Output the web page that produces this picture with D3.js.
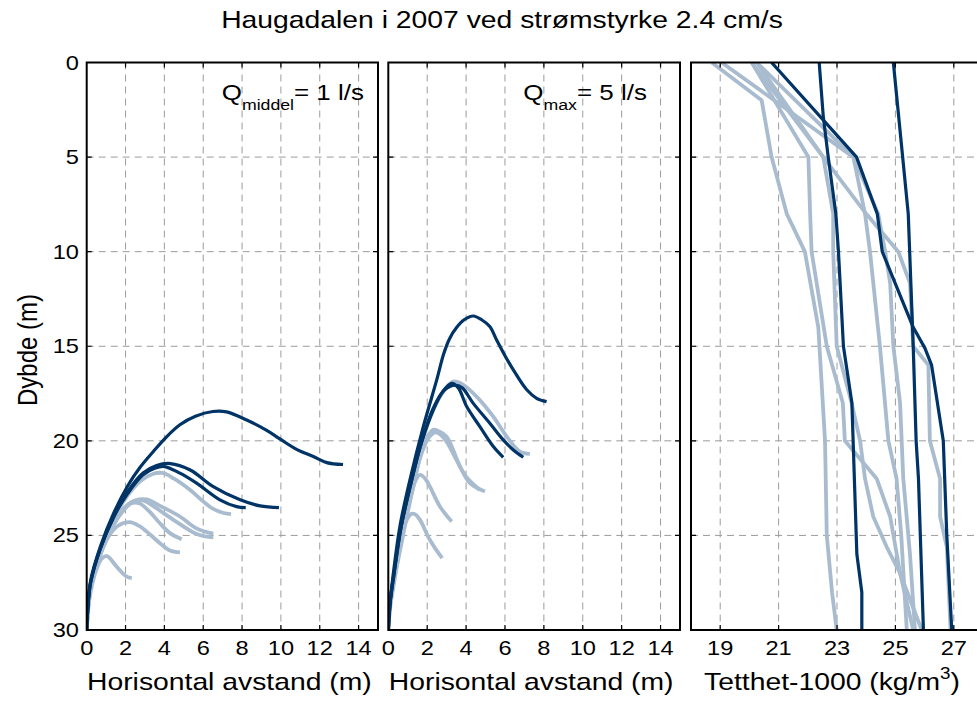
<!DOCTYPE html>
<html>
<head>
<meta charset="utf-8">
<script src="https://cdn.jsdelivr.net/npm/d3@7"></script>
<style>
  body { margin: 0; background: #fff; }
  svg { display: block; }
  text { font-family: "Liberation Sans", Arial, Helvetica, sans-serif; fill: #000; }
</style>
</head>
<body>
<svg id="chart" width="977" height="704"></svg>
<script>
// ---- Plume trajectories, Q middel = 1 l/s : [horizontal distance (m), depth (m)]
const middelDark = [
  [[0,30],[0.05,29],[0.2,27.4],[0.7,25.6],[1.4,23.8],[2.1,22.4],[2.75,21.4],[3.4,20.6],[4.1,19.8],[4.8,19.15],[5.6,18.7],[6.5,18.45],[7.2,18.47],[8.24,18.9],[9.27,19.45],[9.95,19.9],[10.81,20.45],[11.67,20.83],[12.36,21.15],[13.2,21.25]],
  [[0,30],[0.05,29],[0.2,27.5],[0.7,25.7],[1.4,24.0],[2.1,22.7],[2.9,21.7],[3.6,21.3],[4.3,21.2],[5.33,21.54],[6.52,22.42],[7.9,23.12],[8.93,23.44],[9.9,23.53]],
  [[0,30],[0.05,29],[0.2,27.5],[0.7,25.7],[1.4,24.0],[2.1,22.8],[2.9,21.8],[3.5,21.45],[4.0,21.36],[4.8,21.71],[5.66,22.24],[6.86,23.12],[7.72,23.48],[8.19,23.53]]
];
const middelLight = [
  [[0,30],[0.2,27.6],[0.7,25.8],[1.4,24.1],[2.1,22.9],[2.8,22.1],[3.4,21.75],[3.9,21.7],[4.5,22.0],[5.33,22.6],[6.0,23.2],[6.52,23.6],[7.0,23.8],[7.43,23.88]],
  [[0,30],[0.2,27.7],[0.7,26.0],[1.3,24.6],[1.9,23.6],[2.5,23.15],[3.1,23.1],[3.7,23.4],[4.8,24.0],[5.6,24.6],[6.1,24.8],[6.52,24.9]],
  [[0,30],[0.2,27.7],[0.7,26.0],[1.3,24.6],[1.8,23.7],[2.4,23.2],[2.9,23.15],[3.5,23.5],[4.5,24.2],[5.6,24.9],[6.1,25.05],[6.52,25.1]],
  [[0,30],[0.2,27.7],[0.7,26.0],[1.3,24.6],[1.8,23.8],[2.3,23.3],[2.7,23.3],[3.2,23.7],[3.77,24.36],[4.29,24.88],[4.89,25.2]],
  [[0,30],[0.2,27.8],[0.6,26.3],[1.1,25.1],[1.6,24.5],[2.2,24.3],[2.7,24.5],[3.09,24.8],[3.77,25.41],[4.29,25.8],[4.8,25.9]],
  [[0,30],[0.15,28.3],[0.5,26.8],[0.8,26.2],[1.05,26.1],[1.54,26.65],[2.06,27.18],[2.32,27.26]]
];

// ---- Plume trajectories, Q max = 5 l/s
const maxDark = [
  [[0,30],[0.1,28.5],[0.26,27.0],[0.6,24.5],[1.11,22.07],[1.8,19.25],[2.49,16.78],[2.85,15.4],[3.15,14.6],[3.52,14.0],[3.9,13.6],[4.37,13.4],[4.8,13.6],[5.22,13.96],[5.57,14.67],[6.0,15.5],[6.43,16.25],[7.12,17.3],[7.63,17.75],[8.14,17.93]],
  [[0,30],[0.1,28.5],[0.3,27.0],[0.65,24.6],[1.15,22.3],[1.7,20.1],[2.3,18.4],[2.8,17.4],[3.26,16.96],[3.6,17.2],[4.03,18.19],[4.71,19.25],[5.4,20.3],[5.91,20.87]],
  [[0,30],[0.1,28.5],[0.3,27.0],[0.65,24.6],[1.15,22.3],[1.7,20.1],[2.3,18.3],[2.9,17.3],[3.43,17.05],[3.8,17.2],[4.37,18.02],[5.22,19.07],[5.91,19.95],[6.43,20.48],[6.94,20.87]]
];
const maxLight = [
  [[0,30],[0.1,28.5],[0.3,27.0],[0.65,24.7],[1.15,22.4],[1.7,20.2],[2.3,18.4],[2.9,17.3],[3.34,16.87],[3.8,17.0],[4.54,17.66],[5.4,18.72],[6.09,19.78],[6.77,20.57],[7.28,20.69]],
  [[0,30],[0.1,28.5],[0.3,27.1],[0.7,24.9],[1.2,22.7],[1.7,20.6],[2.0,19.8],[2.31,19.42],[2.6,19.5],[3.0,19.78],[3.69,21.36],[4.2,22.24],[4.97,22.68]],
  [[0,30],[0.1,28.5],[0.3,27.1],[0.7,24.9],[1.2,22.7],[1.7,20.7],[2.1,19.8],[2.45,19.55],[2.9,19.9],[3.5,21.0],[4.0,21.9],[4.71,22.6]],
  [[0,30],[0.1,28.6],[0.3,27.4],[0.7,25.3],[1.1,23.3],[1.4,22.1],[1.63,21.8],[1.9,22.0],[2.14,22.42],[2.66,23.48],[3.26,24.27]],
  [[0,30],[0.1,28.8],[0.25,27.8],[0.6,25.6],[0.9,24.3],[1.2,23.86],[1.4,23.9],[1.63,24.18],[2.14,25.24],[2.77,26.2]]
];

// ---- Density profiles : [density - 1000 (kg/m3), depth (m)]
const densDark = [
  [[22.39,0],[22.53,2.86],[22.7,5],[22.96,8],[23.05,10],[23.22,15],[23.51,18],[23.68,26],[23.85,28],[23.85,30]],
  [[24.93,0],[25.44,8],[25.61,15],[25.71,20],[25.79,22],[25.96,30]],
  [[20.76,0],[23.67,5],[24.38,8],[24.55,10],[25.61,14],[26.01,15.1],[26.24,16],[26.64,20],[26.76,25],[26.93,30]]
];
const densLight = [
  [[18.71,0],[20.42,2],[20.76,5],[21.28,8],[21.9,10],[22.36,14],[22.59,20],[22.65,25],[22.83,28],[22.99,30]],
  [[19.05,0],[23.56,5],[23.96,8],[24.13,10],[24.47,15],[24.76,20],[25.04,22],[25.2,25],[25.39,30]],
  [[20.08,0],[22.02,5],[22.08,8],[22.13,10],[22.65,15],[23.2,18],[23.27,20],[24.36,22],[24.82,24],[25.16,27],[25.61,30]],
  [[20.25,0],[22.53,5],[22.87,8],[22.87,10],[22.99,15],[23.5,18],[23.79,20],[23.96,22],[24.24,24],[24.7,25.6],[25.16,27],[25.9,30]],
  [[20.08,0],[22.53,5],[24.0,8],[25.1,10],[25.5,11.67],[25.61,15],[26.13,16],[26.18,20],[26.53,22],[26.53,24],[26.76,25.6],[26.89,30]],
  [[20.25,0],[23.56,5],[24.41,8],[24.65,10],[24.82,11.67],[24.93,15],[25.16,18],[25.27,22],[25.5,26],[25.67,30]]
];

// ---- Axis ticks
const depthTicks = [0, 5, 10, 15, 20, 25, 30];
const distTicks = [0, 2, 4, 6, 8, 10, 12, 14];
const densTicks = [19, 21, 23, 25, 27];

const titleText = "Haugadalen i 2007 ved strømstyrke 2.4 cm/s";
const distLabel = "Horisontal avstand (m)";
const depthLabel = "Dybde (m)";

// ---- Styling
const DARK = "#003366";
const LIGHT = "#a9bccf";
const GRID = "#9c9c9c";
const SX = 1.18;           // horizontal stretch of the lettering
const TOP = 62.5, BOTTOM = 630;

const svg = d3.select("#chart");
const y = d3.scaleLinear().domain([0, 30]).range([TOP, BOTTOM]);

function label(g, x, yy, str, size, anchor) {
  return g.append("text")
    .attr("transform", `translate(${x},${yy}) scale(${SX},1)`)
    .attr("text-anchor", anchor || "middle")
    .attr("font-size", size)
    .text(str);
}

const smooth = d3.curveCatmullRom.alpha(0.5);

const panels = [
  { x0: 86.7, x1: 378, domain: [0, 15], ticks: distTicks, dark: middelDark, light: middelLight,
    curve: smooth, xlabel: distLabel, note: ["Q", "middel", "= 1 l/s"], noteX: 221.7 },
  { x0: 388.3, x1: 680, domain: [0, 15], ticks: distTicks, dark: maxDark, light: maxLight,
    curve: smooth, xlabel: distLabel, note: ["Q", "max", "= 5 l/s"], noteX: 523.3 },
  { x0: 691, x1: 983, domain: [18, 28], ticks: densTicks, dark: densDark, light: densLight,
    curve: d3.curveLinear, xlabel: null }
];

panels.forEach((p, i) => {
  const x = d3.scaleLinear().domain(p.domain).range([p.x0, p.x1]);
  const g = svg.append("g");

  // dashed grid
  const inner = p.ticks.filter(t => t > p.domain[0] && t < p.domain[1]);
  g.selectAll(".vg").data(inner).join("line")
    .attr("x1", d => x(d)).attr("x2", d => x(d))
    .attr("y1", TOP).attr("y2", BOTTOM)
    .attr("stroke", GRID).attr("stroke-width", 1).attr("stroke-dasharray", "7,5");
  g.selectAll(".hg").data(depthTicks.slice(1, -1)).join("line")
    .attr("x1", p.x0).attr("x2", p.x1)
    .attr("y1", d => y(d)).attr("y2", d => y(d))
    .attr("stroke", GRID).attr("stroke-width", 1).attr("stroke-dasharray", "7,5");

  // series, clipped to the panel
  const clipId = "clip" + i;
  svg.append("clipPath").attr("id", clipId).append("rect")
    .attr("x", p.x0).attr("y", TOP).attr("width", p.x1 - p.x0).attr("height", BOTTOM - TOP);
  const line = d3.line().x(d => x(d[0])).y(d => y(d[1])).curve(p.curve);
  const series = g.append("g").attr("clip-path", `url(#${clipId})`);
  series.selectAll(".lt").data(p.light).join("path")
    .attr("d", line).attr("fill", "none").attr("stroke", LIGHT)
    .attr("stroke-width", 3.8).attr("stroke-linejoin", "round").attr("stroke-linecap", "butt");
  series.selectAll(".dk").data(p.dark).join("path")
    .attr("d", line).attr("fill", "none").attr("stroke", DARK)
    .attr("stroke-width", 3.2).attr("stroke-linejoin", "round").attr("stroke-linecap", "butt");

  // inward tick marks on all four sides
  const tk = 5;
  g.selectAll(".xt").data(inner).join("path")
    .attr("d", d => `M${x(d)},${BOTTOM}v${-tk}M${x(d)},${TOP}v${tk}`)
    .attr("stroke", "#000").attr("stroke-width", 1.2);
  g.selectAll(".yt").data(depthTicks.slice(1, -1)).join("path")
    .attr("d", d => `M${p.x0},${y(d)}h${tk}M${p.x1},${y(d)}h${-tk}`)
    .attr("stroke", "#000").attr("stroke-width", 1.2);

  // frame
  g.append("rect").attr("x", p.x0).attr("y", TOP)
    .attr("width", p.x1 - p.x0).attr("height", BOTTOM - TOP)
    .attr("fill", "none").attr("stroke", "#000").attr("stroke-width", 2);

  // x tick labels
  p.ticks.forEach(t => label(svg, x(t), 655, String(t), 20));

  // flow annotation with subscript
  if (p.note) {
    const t = svg.append("text")
      .attr("transform", `translate(${p.noteX},100) scale(${SX},1)`)
      .attr("font-size", 22);
    t.append("tspan").text(p.note[0]);
    t.append("tspan").attr("font-size", 15).attr("dy", 10).text(p.note[1]);
    t.append("tspan").attr("dy", -10).text(p.note[2]);
  }

  // axis title
  if (p.xlabel) {
    label(svg, (p.x0 + p.x1) / 2 - 3, 690, p.xlabel, 24);
  } else {
    const t = svg.append("text")
      .attr("transform", `translate(832,690) scale(${SX},1)`)
      .attr("text-anchor", "middle").attr("font-size", 24);
    t.append("tspan").text("Tetthet-1000 (kg/m");
    t.append("tspan").attr("font-size", 16).attr("dy", -11).text("3");
    t.append("tspan").attr("dy", 11).text(")");
  }
});

// depth tick labels (left panel only)
depthTicks.forEach(d => label(svg, 79, y(d) + 7, String(d), 20, "end"));

// depth axis title
svg.append("text")
  .attr("transform", `translate(37,350) rotate(-90) scale(1,${SX})`)
  .attr("text-anchor", "middle").attr("font-size", 24)
  .text(depthLabel);

// chart title
label(svg, 502, 28, titleText, 24);
</script>
</body>
</html>
